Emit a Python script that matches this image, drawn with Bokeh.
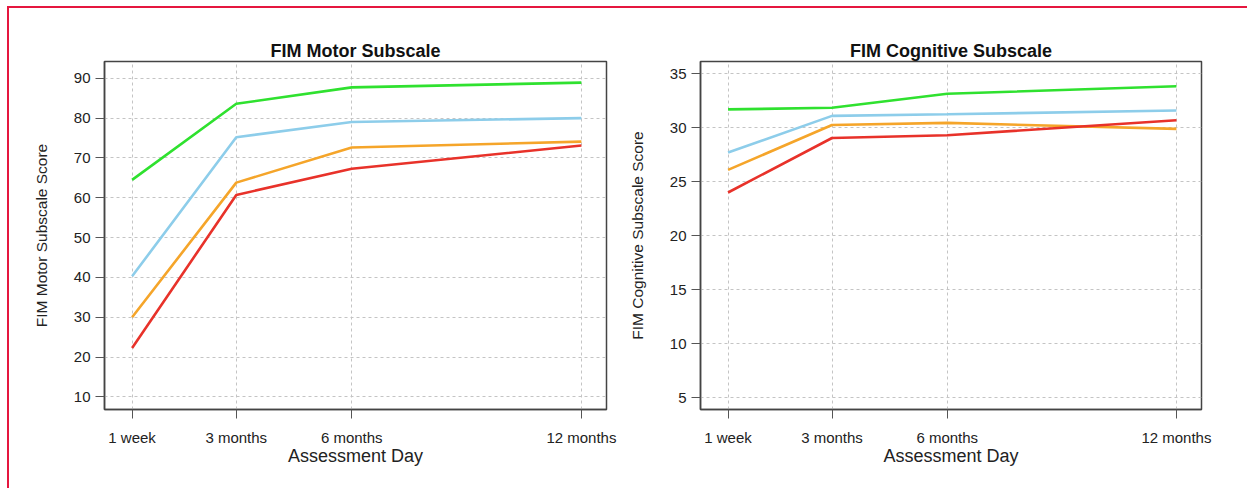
from bokeh.plotting import figure
from bokeh.layouts import row
from bokeh.models import FixedTicker, Range1d
from bokeh.embed import file_html
from bokeh.resources import INLINE

# ---- data ----
days = [7, 90, 182, 365]
tick_labels = ["1 week", "3 months", "6 months", "12 months"]

motor_green = [64.5, 83.6, 87.7, 88.9]
motor_blue = [40.3, 75.2, 79.0, 80.0]
motor_orange = [30.0, 63.8, 72.6, 74.1]
motor_red = [22.3, 60.7, 67.3, 73.1]

cog_green = [31.7, 31.85, 33.15, 33.85]
cog_blue = [27.7, 31.1, 31.25, 31.6]
cog_orange = [26.1, 30.25, 30.45, 29.9]
cog_red = [24.0, 29.05, 29.3, 30.7]

motor_yticks = [10, 20, 30, 40, 50, 60, 70, 80, 90]
cog_yticks = [5, 10, 15, 20, 25, 30, 35]

colors = ["#2FE12F", "#8DCDEA", "#F5A52A", "#E8322A"]
FONT = "Liberation Sans"


def make_panel(title, ylabel, series, yticks, yrange, width, min_left, min_right):
    p = figure(width=width, height=480, output_backend="svg", toolbar_location=None,
               x_range=Range1d(-15.0, 385.0), y_range=Range1d(*yrange),
               min_border_left=min_left, min_border_right=min_right,
               min_border_top=53, min_border_bottom=79)
    p.title.text = title
    p.title.text_font = FONT
    p.title.text_font_size = "18px"
    p.title.text_font_style = "bold"
    p.title.align = "center"
    p.title.text_color = "#111111"
    p.title.standoff = 1

    for ys, c in zip(series, colors):
        p.line(days, ys, line_color=c, line_width=2.6)

    xt = FixedTicker(ticks=days)
    yt = FixedTicker(ticks=yticks)
    p.xaxis.ticker = xt
    p.yaxis.ticker = yt
    p.xgrid.ticker = xt
    p.ygrid.ticker = yt
    p.xaxis.major_label_overrides = {d: l for d, l in zip(days, tick_labels)}

    for ax in (p.xaxis[0], p.yaxis[0]):
        ax.major_tick_out = 9
        ax.major_tick_in = 0
        ax.minor_tick_out = 0
        ax.minor_tick_in = 0
        ax.axis_line_color = "#444444"
        ax.axis_line_width = 1.5
        ax.major_tick_line_color = "#555555"
        ax.major_label_text_font = FONT
        ax.major_label_text_font_size = "15px"
        ax.major_label_text_color = "#222222"
        ax.axis_label_text_font = FONT
        ax.axis_label_text_font_style = "normal"
        ax.axis_label_text_color = "#222222"

    p.xaxis.axis_label = "Assessment Day"
    p.xaxis.axis_label_text_font_size = "18px"
    p.xaxis.major_label_standoff = 10
    p.xaxis.axis_label_standoff = -3
    p.yaxis.axis_label = ylabel
    p.yaxis.axis_label_text_font_size = "15.5px"
    p.yaxis.major_label_standoff = 5
    p.yaxis.axis_label_standoff = 21

    for g in (p.xgrid[0], p.ygrid[0]):
        g.grid_line_color = "#c4c4c4"
        g.grid_line_dash = "3 3"
        g.grid_line_width = 1

    p.outline_line_color = "#444444"
    p.outline_line_width = 1.5
    p.background_fill_color = "white"
    p.border_fill_color = "white"
    return p


p1 = make_panel("FIM Motor Subscale", "FIM Motor Subscale Score",
                [motor_green, motor_blue, motor_orange, motor_red],
                motor_yticks, (6.86, 94.2), 616, 95, 19)
p2 = make_panel("FIM Cognitive Subscale", "FIM Cognitive Subscale Score",
                [cog_green, cog_blue, cog_orange, cog_red],
                cog_yticks, (3.89, 36.14), 622, 74, 46)

layout = row(p1, p2, margin=(6, 0, 0, 7),
             styles={"border-top": "2px solid #E5173F", "border-left": "2px solid #E5173F"})

open("out.html", "w").write(file_html(layout, INLINE))
